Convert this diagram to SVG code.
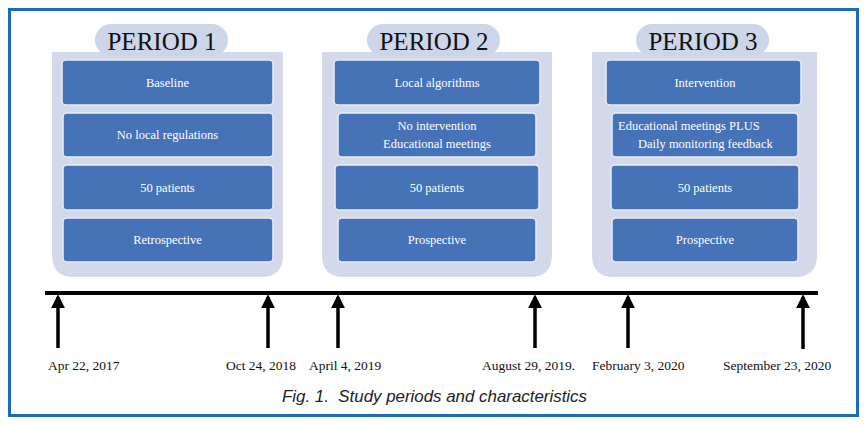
<svg xmlns="http://www.w3.org/2000/svg" width="868" height="424" viewBox="0 0 868 424">
<style>
.panel{fill:#d3d9ea}
.pill{fill:#cdd5e9}
.box{fill:#4672b8;stroke:#e8edf6;stroke-width:1.5}
.bt{font-family:"Liberation Serif",serif;font-size:12.5px;fill:#ffffff;text-anchor:middle}
.pt{font-family:"Liberation Serif",serif;font-size:25px;fill:#111;text-anchor:middle}
.dt{font-family:"Liberation Serif",serif;font-size:13.5px;fill:#111}
.arr{stroke:#000;stroke-width:3.5;fill:none}
.cap{font-family:"Liberation Sans",sans-serif;font-style:italic;font-size:17px;fill:#222}
</style>
<defs>
<marker id="ah" viewBox="0 0 10 10" refX="8" refY="5" markerWidth="4" markerHeight="4" markerUnits="strokeWidth" orient="auto">
<path d="M0,0 L10,5 L0,10 Z" fill="#000"/>
</marker>
</defs>
<rect x="0" y="0" width="868" height="424" fill="#fff"/>
<rect x="9.5" y="9.5" width="848" height="406" fill="none" stroke="#1b6db5" stroke-width="3"/>

<g id="period1">
<path class="panel" d="M52,52 H283 V255 Q283,277 261,277 H74 Q52,277 52,255 Z"/>
<rect class="pill" x="95" y="24" width="133" height="32" rx="16"/>
<text class="pt" x="162" y="50">PERIOD 1</text>
<rect class="box" x="62" y="60" width="211" height="45" rx="4"/>
<text class="bt" x="167.5" y="87">Baseline</text>
<rect class="box" x="63" y="113" width="210" height="44" rx="4"/>
<text class="bt" x="167.5" y="139">No local regulations</text>
<rect class="box" x="63" y="165" width="210" height="45" rx="4"/>
<text class="bt" x="167.5" y="192">50 patients</text>
<rect class="box" x="63" y="218" width="210" height="44" rx="4"/>
<text class="bt" x="167.5" y="244">Retrospective</text>
</g>

<g id="period2">
<path class="panel" d="M322,52 H552 V255 Q552,277 530,277 H344 Q322,277 322,255 Z"/>
<rect class="pill" x="367" y="24" width="133" height="32" rx="16"/>
<text class="pt" x="434" y="50">PERIOD 2</text>
<rect class="box" x="334" y="60" width="206" height="45" rx="4"/>
<text class="bt" x="437" y="87">Local algorithms</text>
<rect class="box" x="338" y="113" width="198" height="44" rx="4"/>
<text class="bt" x="437" y="130">No intervention</text>
<text class="bt" x="437" y="148">Educational meetings</text>
<rect class="box" x="335" y="165" width="204" height="45" rx="4"/>
<text class="bt" x="437" y="192">50 patients</text>
<rect class="box" x="338" y="218" width="198" height="44" rx="4"/>
<text class="bt" x="437" y="244">Prospective</text>
</g>

<g id="period3">
<path class="panel" d="M592,52 H817 V255 Q817,277 795,277 H614 Q592,277 592,255 Z"/>
<rect class="pill" x="636" y="24" width="133" height="32" rx="16"/>
<text class="pt" x="703" y="50">PERIOD 3</text>
<rect class="box" x="606" y="60" width="195" height="45" rx="4"/>
<text class="bt" x="705" y="87">Intervention</text>
<rect class="box" x="612" y="113" width="186" height="44" rx="4"/>
<text class="bt" x="618" y="130" style="text-anchor:start">Educational meetings PLUS</text>
<text class="bt" x="638" y="148" style="text-anchor:start">Daily monitoring feedback</text>
<rect class="box" x="611" y="165" width="188" height="45" rx="4"/>
<text class="bt" x="705" y="192">50 patients</text>
<rect class="box" x="612" y="218" width="186" height="44" rx="4"/>
<text class="bt" x="705" y="244">Prospective</text>
</g>

<g id="connectors">
<line x1="45" y1="293" x2="818" y2="293" stroke="#000" stroke-width="4"/>
<line class="arr" x1="58" y1="348" x2="58" y2="297" marker-end="url(#ah)"/>
<line class="arr" x1="268" y1="348" x2="268" y2="297" marker-end="url(#ah)"/>
<line class="arr" x1="338" y1="348" x2="338" y2="297" marker-end="url(#ah)"/>
<line class="arr" x1="535" y1="348" x2="535" y2="297" marker-end="url(#ah)"/>
<line class="arr" x1="628" y1="348" x2="628" y2="297" marker-end="url(#ah)"/>
<line class="arr" x1="803" y1="349" x2="803" y2="297" marker-end="url(#ah)"/>
</g>

<g id="dates">
<text class="dt" x="48" y="370">Apr 22, 2017</text>
<text class="dt" x="226" y="370">Oct 24, 2018</text>
<text class="dt" x="309" y="370">April 4, 2019</text>
<text class="dt" x="482" y="370">August 29, 2019.</text>
<text class="dt" x="592" y="370">February 3, 2020</text>
<text class="dt" x="723" y="370">September 23, 2020</text>
</g>
<text class="cap" x="282" y="402" textLength="305" lengthAdjust="spacingAndGlyphs" xml:space="preserve">Fig. 1.  Study periods and characteristics</text>
</svg>
